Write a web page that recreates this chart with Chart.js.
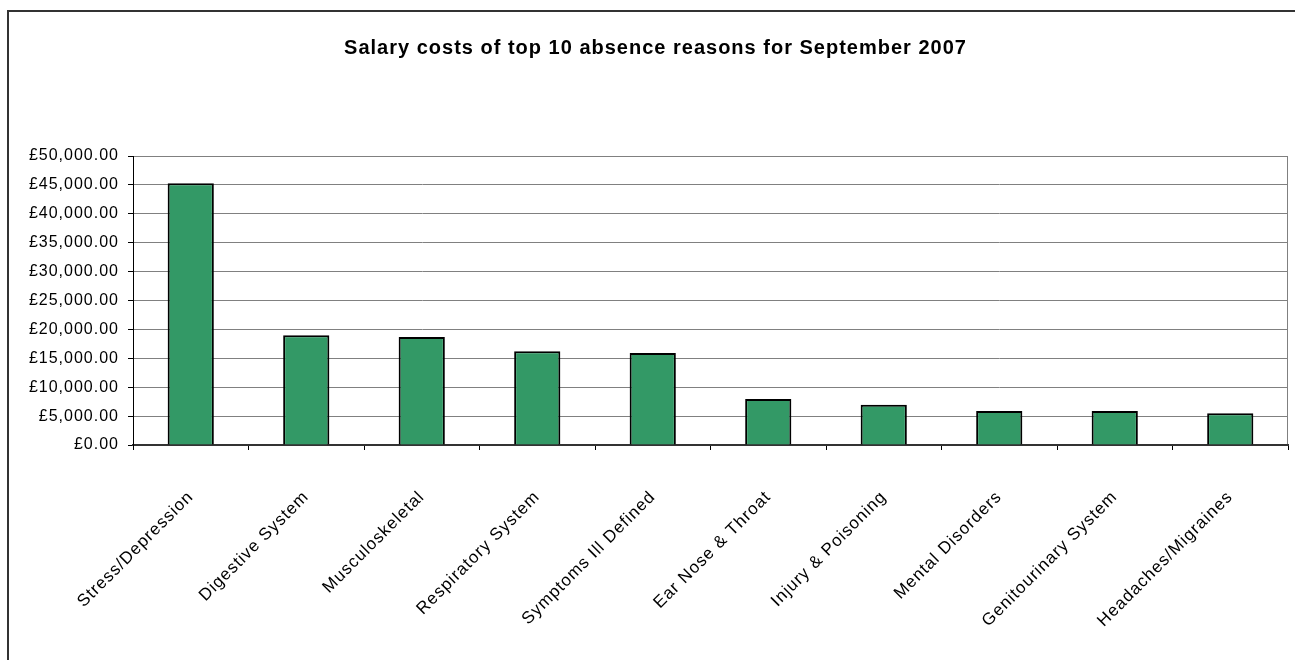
<!DOCTYPE html>
<html>
<head>
<meta charset="utf-8">
<script src="https://cdn.jsdelivr.net/npm/chart.js@4/dist/chart.umd.min.js"></script>
<style>
  html, body { margin: 0; padding: 0; background: #fff; }
  #wrap { position: relative; width: 1295px; height: 660px; }
</style>
</head>
<body>
<div id="wrap"><canvas id="chart" width="1295" height="660"></canvas></div>
<script>
/* data */
const TITLE = 'Salary costs of top 10 absence reasons for September 2007';
const reasons = [
  'Stress/Depression', 'Digestive System', 'Musculoskeletal', 'Respiratory System',
  'Symptoms Ill Defined', 'Ear Nose & Throat', 'Injury & Poisoning', 'Mental Disorders',
  'Genitourinary System', 'Headaches/Migraines'
];
const salaryCost = [45300, 19000, 18700, 16200, 15900, 7950, 6950, 5900, 5900, 5500];
const Y_MIN = 0, Y_MAX = 50000, Y_STEP = 5000;

const FONT = "'Liberation Sans', Arial, sans-serif";
const BAR_GREEN = '#339966';

const fmtPounds = v => '£' + Number(v).toLocaleString('en-GB', { minimumFractionDigits: 2, maximumFractionDigits: 2 });

/* outer frame + plot-area border, and slightly spaced lettering like the old office charts */
const framePlugin = {
  id: 'frame',
  beforeLayout(chart) { chart.ctx.letterSpacing = '1px'; },
  beforeDraw(chart) {
    const { ctx, chartArea: a } = chart;
    ctx.save();
    ctx.fillStyle = '#fff';
    ctx.fillRect(0, 0, chart.width, chart.height);
    ctx.strokeStyle = '#333';
    ctx.lineWidth = 2;
    ctx.beginPath();
    ctx.moveTo(8, chart.height);
    ctx.lineTo(8, 11);
    ctx.lineTo(chart.width, 11);
    ctx.stroke();
    ctx.strokeStyle = '#808080';
    ctx.lineWidth = 1;
    ctx.strokeRect(a.left + 0.5, a.top + 0.5, a.width - 1, a.height);
    ctx.restore();
    ctx.letterSpacing = '1px';
  }
};

new Chart(document.getElementById('chart').getContext('2d'), {
  type: 'bar',
  data: {
    labels: reasons,
    datasets: [{
      data: salaryCost,
      backgroundColor: BAR_GREEN,
      borderColor: '#000',
      borderWidth: 2,
      borderSkipped: 'bottom',
      categoryPercentage: 1.0,
      barPercentage: 0.4
    }]
  },
  options: {
    responsive: false,
    animation: false,
    layout: { padding: { left: 23, right: 7, top: 0, bottom: 0 } },
    plugins: {
      legend: { display: false },
      tooltip: { enabled: false },
      title: {
        display: true,
        text: TITLE,
        color: '#000',
        font: { family: FONT, size: 20, weight: 'bold' },
        padding: { top: 36, bottom: 96 }
      }
    },
    scales: {
      x: {
        offset: true,
        grid: { offset: true, drawOnChartArea: false, drawTicks: true, tickLength: 5, tickColor: '#000' },
        border: { color: '#333', width: 2 },
        ticks: {
          color: '#000',
          font: { family: FONT, size: 17 },
          minRotation: 45,
          maxRotation: 45,
          autoSkip: false,
          padding: 37
        },
        afterFit(scale) { scale.height = 215; }
      },
      y: {
        min: Y_MIN,
        max: Y_MAX,
        grid: { color: '#808080', lineWidth: 1, tickLength: 5, tickColor: '#000' },
        border: { color: '#000', width: 1 },
        ticks: {
          stepSize: Y_STEP,
          color: '#000',
          font: { family: FONT, size: 16 },
          padding: 9,
          callback: v => fmtPounds(v)
        },
        afterFit(scale) { scale.width = 110; }
      }
    }
  },
  plugins: [framePlugin]
});
</script>
</body>
</html>
